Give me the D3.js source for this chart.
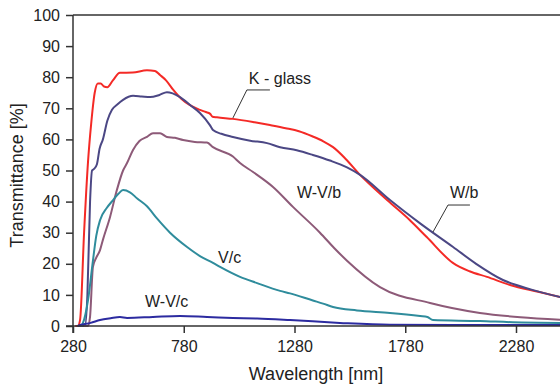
<!DOCTYPE html>
<html>
<head>
<meta charset="utf-8">
<script src="https://cdn.jsdelivr.net/npm/d3@7"></script>
<style>
  body { margin: 0; background: #fff; }
  svg { display: block; font-family: "Liberation Sans", Arial, sans-serif; }
</style>
</head>
<body>
<script>
// wavelength [nm], transmittance [%]
const kGlass = [[290,0],[302,0],[312,2],[330,30],[348,53],[362,65],[378,75],[392,78],[405,78],[420,77],[435,76.8],[460,79],[492,81.4],[550,81.5],[614,82.2],[650,82],[673,80.7],[700,79],[732,76],[770,73],[808,71],[853,69.5],[880,68.8],[898,68.3],[910,67.3],[930,67.1],[1002,66.6],[1100,65.5],[1169,64.6],[1240,63.6],[1300,62.6],[1360,61],[1410,59.4],[1454,57.5],[1510,53.8],[1576,48.6],[1698,40.5],[1801,34],[1877,28.6],[1995,20.3],[2070,17.6],[2149,15.8],[2253,13.2],[2380,11],[2480,9.3]];
const wb = [[300,0],[334,0],[345,10],[357,40],[366,50],[375,50.5],[388,52],[400,57],[415,60],[435,66],[456,69.5],[480,71.2],[506,72.7],[551,74],[590,73.8],[628,73.6],[670,74.3],[704,75.2],[730,74.8],[763,73.6],[810,71],[853,68.5],[898,64.6],[912,63],[950,61.8],[1002,60.8],[1080,59.6],[1156,58.8],[1215,57.5],[1290,56.5],[1363,55],[1440,53.2],[1517,51],[1576,48.6],[1711,40.5],[1847,33],[1996,25.4],[2100,20],[2221,14.8],[2350,11.7],[2480,9.3]];
const wvb = [[330,0],[348,0],[357,3],[370,19],[385,22],[402,24.4],[415,27.7],[447,35],[478,43.7],[506,50],[524,52.4],[551,56.6],[580,59.5],[614,60.8],[641,62],[673,62],[704,60.8],[740,60.5],[777,59.8],[830,59.2],[885,59],[912,57.5],[1002,54.5],[1034,52.4],[1093,49.5],[1183,44.7],[1273,38.3],[1395,30],[1460,25],[1517,21],[1666,12.5],[1892,7.4],[2117,4.2],[2300,2.8],[2480,2]];
const vc = [[315,0],[325,1],[348,8.4],[370,21],[385,29],[402,34],[433,38],[461,40.5],[485,42.5],[506,43.7],[537,43],[570,41],[614,38.5],[660,34.5],[718,30],[795,25.4],[853,22.5],[912,20.3],[944,19],[1034,15.8],[1111,13.8],[1215,11.3],[1260,10.5],[1363,8.2],[1409,7.2],[1454,6.1],[1562,5],[1711,4.2],[1847,3.2],[1880,2.9],[1905,1.9],[2117,1.6],[2266,1.2],[2480,1]];
const wvc = [[300,0],[312,0.3],[360,1],[402,1.9],[450,2.5],[492,2.9],[524,2.6],[641,2.9],[763,3.2],[885,2.9],[1002,2.6],[1111,2.4],[1260,1.9],[1485,1],[1711,0.4],[2000,0.3],[2480,0.3]];

const seriesNames = ["K - glass", "W/b", "W-V/b", "V/c", "W-V/c"];
const seriesData = [kGlass, wb, wvb, vc, wvc];
const colors = ["#f42a26", "#4b4784", "#8d5a78", "#2f8c9c", "#2c2ba0"];

const xTicks = [280, 780, 1280, 1780, 2280];
const yTicks = [0, 10, 20, 30, 40, 50, 60, 70, 80, 90, 100];

// label anchors: [x nm, y %]
const labelPos = [[1074,77.8],[1982,41.2],[1291,41.2],[935,20.3],[605,6.1]];
// leader lines for two labels
const leaders = [
  [[1169,75.9],[1065,75.9],[1002,66.9]],
  [[2072,38.9],[1973,38.9],[1905,30.2]]
];

const width = 560, height = 386;

const svg = d3.select("body").append("svg")
  .attr("width", width)
  .attr("height", height);

const x = d3.scaleLinear().domain([280, 2280]).range([73, 516]);
const y = d3.scaleLinear().domain([0, 100]).range([326, 15]);

const line = d3.line()
  .x(d => x(d[0]))
  .y(d => y(d[1]))
  .curve(d3.curveMonotoneX);

// top frame line
svg.append("line")
  .attr("x1", x(280)).attr("x2", width)
  .attr("y1", y(100)).attr("y2", y(100))
  .attr("stroke", "#333").attr("stroke-width", 1.5);

const g = svg.append("g");
seriesData.forEach((s, i) => {
  g.append("path")
    .datum(s)
    .attr("d", line)
    .attr("fill", "none")
    .attr("stroke", colors[i])
    .attr("stroke-width", 2)
    .attr("stroke-linejoin", "round");
});

const yAxis = svg.append("g")
  .attr("transform", `translate(${x(280)},0)`)
  .call(d3.axisLeft(y).tickValues(yTicks).tickSize(7).tickPadding(6).tickSizeOuter(0));

const xAxis = svg.append("g")
  .attr("transform", `translate(0,${y(0)})`)
  .call(d3.axisBottom(x).tickValues(xTicks).tickSize(7).tickPadding(8).tickSizeOuter(0).tickFormat(d3.format("d")));

[yAxis, xAxis].forEach(ax => {
  ax.select(".domain").attr("stroke", "#333").attr("stroke-width", 1.5);
  ax.selectAll(".tick line").attr("stroke", "#333").attr("stroke-width", 1.5);
  ax.selectAll(".tick text").attr("fill", "#222").style("font-size", "16px")
    .style("font-family", "'Liberation Sans', Arial, sans-serif");
});
// x axis line runs right to the edge
xAxis.select(".domain").attr("d", `M${x(280) - 7},0H${width}`);
yAxis.select(".domain").attr("d", `M0,${y(100)}V${y(0) + 7}`);

// series labels
seriesNames.forEach((n, i) => {
  svg.append("text")
    .attr("x", x(labelPos[i][0]))
    .attr("y", y(labelPos[i][1]))
    .attr("fill", "#222")
    .style("font-size", "16px")
    .text(n);
});

leaders.forEach(pts => {
  svg.append("path")
    .attr("d", d3.line().x(d => x(d[0])).y(d => y(d[1]))(pts))
    .attr("fill", "none")
    .attr("stroke", "#333")
    .attr("stroke-width", 1);
});

// axis titles
svg.append("text")
  .attr("transform", `translate(23,${(y(0) + y(100)) / 2 + 5}) rotate(-90)`)
  .attr("text-anchor", "middle")
  .attr("fill", "#222")
  .style("font-size", "18px")
  .text("Transmittance [%]");

svg.append("text")
  .attr("x", 316)
  .attr("y", 380)
  .attr("text-anchor", "middle")
  .attr("fill", "#222")
  .style("font-size", "18px")
  .text("Wavelength [nm]");
</script>
</body>
</html>
